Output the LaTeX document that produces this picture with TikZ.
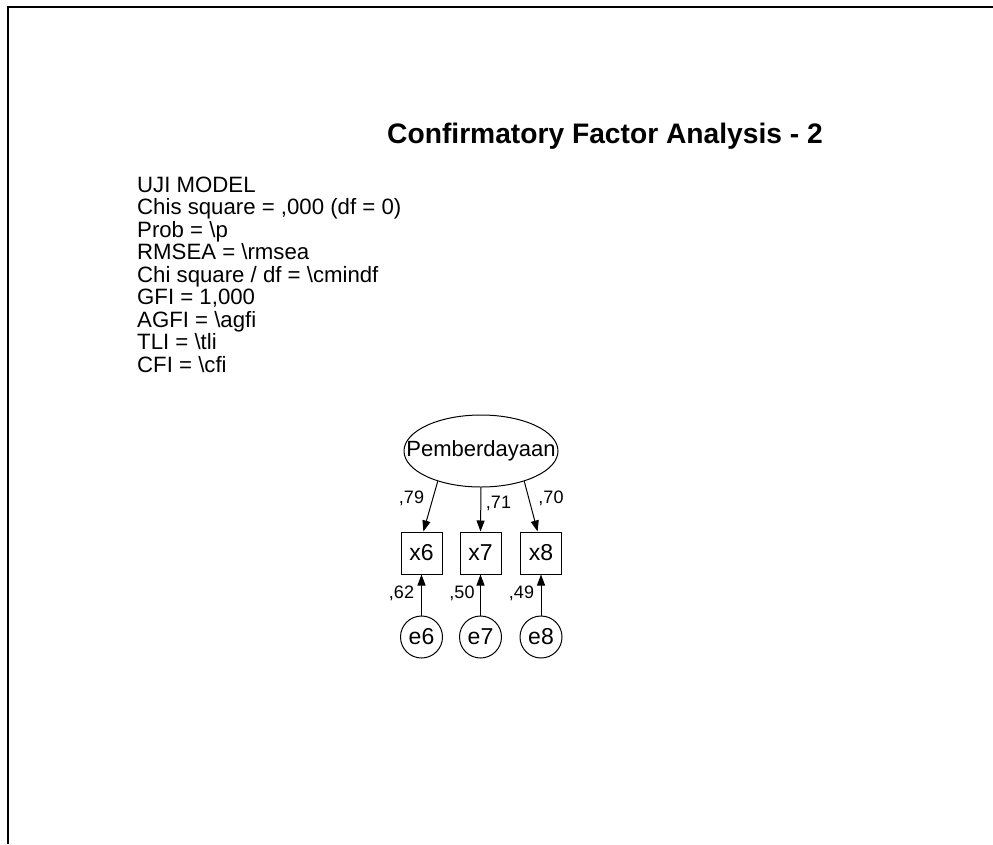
\documentclass[tikz,border=0pt]{standalone}
\usepackage{fontspec}
\setmainfont{Liberation Sans}
\usetikzlibrary{arrows.meta,shapes.geometric}
\begin{document}
\begin{tikzpicture}[x=1pt,y=-1pt,
  txt/.style={font=\fontsize{22.2}{22}\selectfont, inner sep=0pt, anchor=base west},
  obs/.style={draw, line width=1pt, minimum width=41pt, minimum height=42pt, inner sep=0pt, font=\fontsize{23}{23}\selectfont},
  err/.style={draw, circle, line width=1pt, minimum size=42pt, inner sep=0pt, font=\fontsize{23}{23}\selectfont},
  lat/.style={draw, ellipse, line width=1pt, minimum width=154pt, minimum height=72pt, inner sep=0pt, font=\fontsize{22}{22}\selectfont},
  lbl/.style={inner sep=0pt, font=\fontsize{18}{18}\selectfont},
  arr/.style={line width=1pt, -{Triangle[length=11pt,width=8pt]}}]
\useasboundingbox (0,0) rectangle (993,844);
\draw[line width=1.6pt] (993,7) -- (8,7) -- (8,844);

\node[inner sep=0pt, anchor=base west, font=\fontsize{28.2}{28}\selectfont\bfseries] (title) at (387,143) {Confirmatory Factor Analysis - 2};

\node[txt] (l1) at (137,192) {UJI MODEL};
\node[txt] (l2) at (137,214.5) {Chis square = ,000 (df = 0)};
\node[txt] (l3) at (137,237) {Prob = \textbackslash p};
\node[txt] (l4) at (137,259.5) {RMSEA = \textbackslash rmsea};
\node[txt] (l5) at (137,282) {Chi square / df = \textbackslash cmindf};
\node[txt] (l6) at (137,304.5) {GFI = 1,000};
\node[txt] (l7) at (137,327) {AGFI = \textbackslash agfi};
\node[txt] (l8) at (137,349.5) {TLI = \textbackslash tli};
\node[txt] (l9) at (137,372) {CFI = \textbackslash cfi};

\node[lat] (pem) at (481,451) {\makebox[0pt][c]{Pemberdayaan}};

\node[obs] (x6) at (421.5,553) {x6};
\node[obs] (x7) at (480.5,553) {x7};
\node[obs] (x8) at (541,553) {x8};

\node[err] (e6) at (421.5,637) {e6};
\node[err] (e7) at (480.5,637) {e7};
\node[err] (e8) at (541,637) {e8};

\draw[arr] (pem.215) -- (x6.85);
\draw[arr] (pem.south) -- (x7.north);
\draw[arr] (pem.325) -- (x8.99);

\draw[arr] (e6) -- (x6);
\draw[arr] (e7) -- (x7);
\draw[arr] (e8) -- (x8);

\node[lbl] (w6) at (411.5,498.5) {,79};
\node[lbl] (w7) at (498.5,503) {,71};
\node[lbl] (w8) at (551,498.5) {,70};

\node[lbl] (r6) at (401.5,593.5) {,62};
\node[lbl] (r7) at (462,593.5) {,50};
\node[lbl] (r8) at (521.5,593.5) {,49};
\end{tikzpicture}
\end{document}
